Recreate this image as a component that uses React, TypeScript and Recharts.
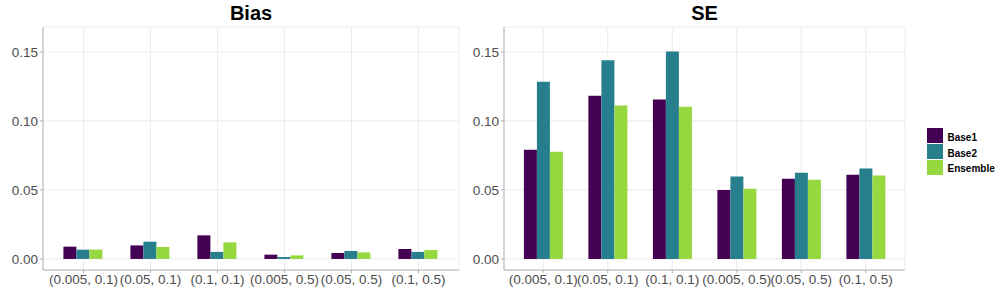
import { BarChart, Bar, XAxis, YAxis, CartesianGrid } from 'recharts';

const categories = ['(0.005, 0.1)', '(0.05, 0.1)', '(0.1, 0.1)', '(0.005, 0.5)', '(0.05, 0.5)', '(0.1, 0.5)'];
const seriesNames = ['Base1', 'Base2', 'Ensemble'];
const seriesColors = ['#440154', '#277F8E', '#95D840'];

const biasBase1 = [0.0089, 0.0098, 0.0171, 0.0031, 0.0043, 0.0072];
const biasBase2 = [0.0067, 0.0125, 0.0051, 0.0014, 0.0058, 0.0051];
const biasEnsemble = [0.0068, 0.0087, 0.012, 0.0026, 0.0048, 0.0065];

const seBase1 = [0.0791, 0.1182, 0.1155, 0.0499, 0.0581, 0.061];
const seBase2 = [0.1283, 0.144, 0.1502, 0.0598, 0.0625, 0.0656];
const seEnsemble = [0.0776, 0.1111, 0.1102, 0.0509, 0.0574, 0.0605];

const yTicks = [0, 0.05, 0.1, 0.15];

const FONT = '"Liberation Sans", Arial, sans-serif';
const BORDER = '#b3b3b3';

function buildRows(values: number[][]) {
    return categories.map((cat, i) => {
        const row: Record<string, string | number> = { cat };
        seriesNames.forEach((name, s) => {
            row[name] = values[s][i];
        });
        return row;
    });
}

function Panel({ title, values, left, width }: { title: string; values: number[][]; left: number; width: number }) {
    const rows = buildRows(values);
    const yw = 43;
    const mr = 1;
    return (
        <div style={{ position: 'absolute', left, top: 0, width, height: 300 }}>
            <div
                style={{
                    position: 'absolute',
                    left: yw,
                    width: width - yw - mr,
                    top: 2,
                    textAlign: 'center',
                    fontFamily: FONT,
                    fontWeight: 700,
                    fontSize: 20,
                    color: '#000',
                }}
            >
                {title}
            </div>
            <BarChart
                width={width}
                height={300}
                data={rows}
                margin={{ top: 27, right: mr, bottom: 0, left: 0 }}
                barCategoryGap="20%"
                barGap={0}
            >
                <CartesianGrid stroke="#ebebeb" strokeWidth={1} />
                <XAxis
                    dataKey="cat"
                    height={30}
                    padding={{ left: 7, right: 7 }}
                    tick={{ fill: '#4d4d4d', fontSize: 13.5, fontFamily: FONT }}
                    tickSize={3}
                    tickMargin={1}
                    tickLine={{ stroke: BORDER }}
                    axisLine={{ stroke: BORDER }}
                    interval={0}
                />
                <XAxis
                    xAxisId="top"
                    dataKey="cat"
                    orientation="top"
                    height={0}
                    tick={false}
                    tickLine={false}
                    axisLine={{ stroke: BORDER }}
                />
                <YAxis
                    width={yw}
                    domain={[-0.008, 0.168]}
                    ticks={yTicks}
                    allowDataOverflow
                    tickFormatter={(v: number) => v.toFixed(2)}
                    tick={{ fill: '#4d4d4d', fontSize: 13.5, fontFamily: FONT }}
                    tickSize={3}
                    tickMargin={2}
                    tickLine={{ stroke: BORDER }}
                    axisLine={{ stroke: BORDER }}
                />
                <YAxis
                    yAxisId="right"
                    orientation="right"
                    width={0}
                    domain={[-0.008, 0.168]}
                    tick={false}
                    tickLine={false}
                    axisLine={{ stroke: BORDER }}
                />
                {seriesNames.map((name, s) => (
                    <Bar key={name} dataKey={name} fill={seriesColors[s]} isAnimationActive={false} />
                ))}
            </BarChart>
        </div>
    );
}

function Legend() {
    return (
        <div style={{ position: 'absolute', left: 927, top: 128 }}>
            {seriesNames.map((name, s) => (
                <div key={name} style={{ display: 'flex', alignItems: 'center', height: 15.7 }}>
                    <div style={{ width: 15.5, height: 15, background: seriesColors[s] }} />
                    <span
                        style={{
                            marginLeft: 5,
                            marginTop: 3,
                            fontFamily: FONT,
                            fontWeight: 700,
                            fontSize: 10,
                            color: '#000',
                        }}
                    >
                        {name}
                    </span>
                </div>
            ))}
        </div>
    );
}

export default function App() {
    return (
        <div style={{ position: 'absolute', left: 0, top: 0, width: 1000, height: 300, background: '#fff' }}>
            <Panel title="Bias" values={[biasBase1, biasBase2, biasEnsemble]} left={0} width={460} />
            <Panel title="SE" values={[seBase1, seBase2, seEnsemble]} left={461} width={445} />
            <Legend />
        </div>
    );
}
